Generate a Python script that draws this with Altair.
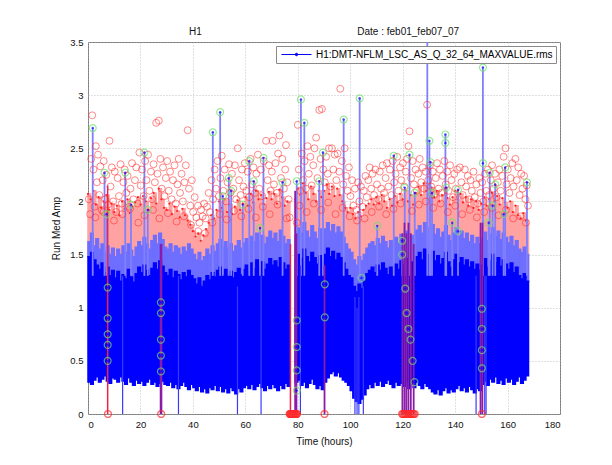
import altair as alt
import pandas as pd

SERIES = "H1:DMT-NFLM_LSC_AS_Q_32_64_MAXVALUE.rms"
TITLE = "H1" + "\u00a0" * 56 + "Date : feb01_feb07_07"

HOURS = list(range(168))
BLUE_LOW = [
    0.30, 0.28, 0.32, 0.35, 0.30, 0.33, 0.36, 0.31, 0.29, 0.34,
    0.33, 0.30, 0.35, 0.31, 0.28, 0.34, 0.30, 0.27, 0.32, 0.29,
    0.31, 0.27, 0.30, 0.33, 0.28, 0.30, 0.26, 0.29, 0.31, 0.28,
    0.27, 0.30, 0.25, 0.28, 0.24, 0.27, 0.30, 0.26, 0.23, 0.28,
    0.25, 0.22, 0.26, 0.21, 0.24, 0.20, 0.25, 0.23, 0.27, 0.22,
    0.26, 0.21, 0.24, 0.20, 0.25, 0.22, 0.19, 0.24, 0.21, 0.25,
    0.27, 0.24, 0.28, 0.23, 0.26, 0.29, 0.25, 0.22, 0.27, 0.24,
    0.28, 0.25, 0.22, 0.27, 0.24, 0.29, 0.26, None, None, 0.30,
    0.32, 0.27, 0.30, 0.25, 0.29, 0.33, 0.28, 0.24, 0.27, 0.23,
    0.30, 0.34, 0.38, 0.40, 0.36, 0.39, 0.35, 0.32, 0.30, 0.27,
    0.22, 0.15, 0.12, 0.10, 0.14, 0.18, 0.24, 0.28, 0.25, 0.30,
    0.27, 0.31, 0.26, 0.29, 0.32, 0.28, 0.25, 0.30, 0.27, 0.29,
    0.26, 0.30, 0.24, 0.28, 0.25, 0.30, 0.27, 0.24, 0.29, 0.26,
    0.24, 0.21, 0.19, 0.23, 0.18, 0.22, 0.25, 0.20, 0.23, 0.21,
    0.24, 0.27, 0.22, 0.25, 0.21, 0.26, 0.23, 0.20, 0.24, 0.22,
    0.28, 0.31, 0.27, 0.33, 0.30, 0.35, 0.29, 0.32, 0.28, 0.34,
    0.30, 0.33, 0.28, 0.31, 0.35, 0.29, 0.32, 0.36,
]
BLUE_CORE_TOP = [
    1.48, 1.52, 1.45, 1.40, 1.36, 1.42, 1.33, 1.38, 1.30, 1.35,
    1.28, 1.34, 1.25, 1.31, 1.27, 1.36, 1.29, 1.24, 1.32, 1.38,
    1.33, 1.40, 1.35, 1.30, 1.37, 1.42, 1.36, 1.44, 1.39, 1.33,
    1.30, 1.36, 1.28, 1.34, 1.31, 1.26, 1.33, 1.29, 1.35, 1.30,
    1.27, 1.22, 1.28, 1.20, 1.25, 1.30, 1.26, 1.33, 1.29, 1.35,
    1.38, 1.31, 1.36, 1.30, 1.34, 1.28, 1.33, 1.37, 1.31, 1.36,
    1.40, 1.34, 1.42, 1.37, 1.45, 1.39, 1.43, 1.36, 1.41, 1.46,
    1.40, 1.44, 1.38, 1.47, 1.42, 1.36, 1.40, None, None, 1.45,
    1.50, 1.46, 1.55, 1.48, 1.43, 1.52, 1.47, 1.41, 1.49, 1.44,
    1.50, 1.56, 1.48, 1.53, 1.45, 1.51, 1.47, 1.42, 1.36, 1.30,
    1.28, 1.20, 1.15, 1.22, 1.18, 1.25, 1.32, 1.35, 1.38, 1.33,
    1.40, 1.35, 1.42, 1.37, 1.31, 1.38, 1.34, 1.41, 1.36, 1.44,
    1.40, 1.46, 1.38, 1.43, 1.36, 1.48, 1.52, 1.45, 1.55, 1.50,
    1.47, 1.53, 1.44, 1.49, 1.41, 1.46, 1.52, 1.43, 1.38, 1.45,
    1.50, 1.42, 1.47, 1.40, 1.45, 1.38, 1.43, 1.36, 1.41, 1.35,
    1.40, 1.46, 1.38, 1.44, 1.50, 1.42, 1.47, 1.39, 1.45, 1.41,
    1.36, 1.42, 1.33, 1.38, 1.30, 1.27, 1.32, 1.25,
]
BLUE_TOP = [
    1.62, 1.70, 1.58, 1.65, 1.55, 1.60, 1.52, 1.58, 1.50, 1.56,
    1.48, 1.55, 1.50, 1.58, 1.52, 1.60, 1.54, 1.48, 1.57, 1.62,
    1.58, 1.66, 1.60, 1.55, 1.63, 1.68, 1.60, 1.70, 1.64, 1.57,
    1.55, 1.60, 1.52, 1.58, 1.56, 1.50, 1.57, 1.53, 1.60, 1.55,
    1.50, 1.45, 1.52, 1.44, 1.48, 1.55, 1.50, 1.58, 1.53, 1.60,
    1.64, 1.57, 1.62, 1.55, 1.60, 1.53, 1.58, 1.63, 1.56, 1.61,
    1.65, 1.58, 1.67, 1.62, 1.70, 1.63, 1.68, 1.60, 1.66, 1.72,
    1.65, 1.70, 1.62, 1.73, 1.67, 1.60, 1.64, None, None, 1.68,
    1.75, 1.70, 1.80, 1.72, 1.66, 1.77, 1.71, 1.65, 1.74, 1.68,
    1.74, 1.80, 1.72, 1.78, 1.70, 1.76, 1.71, 1.66, 1.60, 1.55,
    1.52, 1.45, 1.40, 1.48, 1.44, 1.50, 1.56, 1.60, 1.62, 1.58,
    1.65, 1.60, 1.67, 1.62, 1.56, 1.63, 1.58, 1.66, 1.61, 1.69,
    1.65, 1.72, 1.63, 1.68, 1.60, 1.73, 1.77, 1.70, 1.80, 1.75,
    1.72, 1.78, 1.69, 1.74, 1.66, 1.71, 1.77, 1.68, 1.63, 1.70,
    1.75, 1.67, 1.72, 1.65, 1.70, 1.62, 1.68, 1.60, 1.66, 1.60,
    1.65, 1.71, 1.63, 1.69, 1.75, 1.67, 1.72, 1.64, 1.70, 1.66,
    1.61, 1.67, 1.58, 1.63, 1.55, 1.52, 1.57, 1.50,
]
RED_TOP = [
    2.07, 2.02, 2.10, 1.97, 2.04, 1.94, 2.00, 2.06, 1.92, 1.98,
    1.90, 1.96, 1.87, 2.00, 1.93, 2.02, 1.89, 1.95, 1.99, 2.04,
    1.97, 2.05, 2.00, 1.92, 2.03, 2.08, 1.98, 2.12, 2.02, 1.94,
    1.92, 1.98, 1.88, 1.95, 1.91, 1.85, 1.93, 1.87, 1.82, 1.78,
    1.72, 1.67, 1.70, 1.63, 1.68, 1.74, 1.80, 1.87, 1.84, 1.92,
    2.00, 1.94, 2.02, 1.90, 1.97, 1.88, 1.95, 2.01, 1.92, 1.98,
    2.04, 1.96, 2.07, 1.99, 2.10, 2.02, 2.06, 1.97, 2.03, 2.09,
    2.02, 2.07, 1.98, 2.11, 2.04, 1.96, 2.00, None, None, 2.02,
    2.12, 2.06, 2.17, 2.08, 2.02, 2.14, 2.07, 2.00, 2.10, 2.04,
    2.10, 2.16, 2.07, 2.14, 2.05, 2.12, 2.06, 2.00, 1.94, 1.90,
    1.94, 1.88, 1.84, 1.90, 1.86, 1.92, 1.96, 1.98, 2.02, 1.97,
    2.04, 1.98, 2.06, 2.00, 1.94, 2.02, 1.96, 2.05, 1.99, 2.07,
    2.02, 2.10, 2.00, 2.06, 1.97, 2.08, 2.14, 2.06, 2.17, 2.10,
    2.07, 2.13, 2.04, 2.10, 2.00, 2.06, 2.12, 2.03, 1.97, 2.04,
    2.10, 2.02, 2.07, 1.99, 2.04, 1.96, 2.02, 1.94, 2.00, 1.92,
    1.98, 2.04, 1.96, 2.02, 2.08, 2.00, 2.05, 1.97, 2.03, 1.99,
    1.94, 2.00, 1.90, 1.96, 1.87, 1.84, 1.89, 1.82,
]

RED_T = [
    0.3, 0.8, 1.2, 1.6, 2.1, 2.5, 3.0, 3.4, 3.8, 4.3, 4.7,
    5.2, 5.6, 6.0, 6.6, 7.0, 7.6, 8.2, 8.6, 9.1, 9.6,
    10.2, 10.7, 11.3, 11.8, 12.4, 12.9, 13.5, 14.0, 14.6,
    15.1, 15.7, 16.2, 16.8, 17.3, 17.9, 18.4, 18.9, 19.6,
    20.1, 20.6, 21.2, 21.8, 22.3, 22.9, 23.4, 24.0, 24.5,
    25.0, 25.5, 26.0, 26.5, 27.0, 27.6, 28.1, 28.6, 29.2, 29.7,
    30.2, 30.8, 31.3, 31.9, 32.4, 33.0, 33.5, 34.1, 34.6,
    35.1, 35.7, 36.2, 36.8, 37.3, 38.0, 38.5, 39.0, 39.6,
    40.1, 40.7, 41.3, 41.9, 42.5, 43.1, 43.7, 44.3, 44.9,
    45.4, 46.0, 46.5, 47.1, 47.7, 48.3, 48.8, 49.4, 49.9,
    50.5, 51.0, 51.6, 52.1, 52.7, 53.2, 53.8, 54.3, 54.9,
    55.4, 56.0, 56.5, 57.1, 57.6, 58.2, 58.7, 59.3, 59.8,
    60.4, 60.9, 61.5, 62.0, 62.6, 63.1, 63.7, 64.2, 64.8,
    65.3, 65.9, 66.4, 67.0, 67.9, 68.5, 69.0, 69.6, 70.1,
    70.4, 70.9, 71.5, 72.0, 72.5, 73.0, 73.6, 74.1, 74.7, 75.2, 75.5, 76.0, 76.5, 76.9,
    79.6, 80.0, 80.4, 80.9, 81.5, 82.0, 82.6, 83.1, 83.7, 84.2, 84.8,
    85.3, 85.9, 86.4, 87.0, 87.5, 88.2, 88.7, 89.2, 89.7,
    90.3, 90.8, 91.4, 91.9, 92.5, 93.0, 93.6, 94.1, 94.7,
    95.2, 95.8, 96.2, 96.8, 97.3, 97.9, 98.4, 99.0, 99.5,
    100.1, 100.7, 101.2, 101.8, 102.4, 103.0, 103.5, 104.1, 104.7,
    105.2, 105.8, 106.3, 106.9, 107.4, 108.0, 108.5, 109.1, 109.6,
    110.2, 110.7, 111.3, 111.8, 112.4, 112.9, 113.5, 114.0, 114.6,
    115.1, 115.7, 116.2, 116.8, 117.3, 117.9, 118.4, 119.0, 119.5,
    120.1, 120.6, 121.2, 121.7, 122.2, 122.6, 123.2, 123.8, 124.3,
    124.9, 125.4, 126.0, 126.5, 127.1, 127.6, 128.2, 128.8, 129.3,
    129.8, 130.4, 130.9, 131.5, 132.0, 132.6, 133.1, 133.7, 134.2,
    134.8, 135.3, 135.9, 136.4, 137.0, 137.5, 138.1, 138.6, 139.2,
    139.7, 140.3, 140.8, 141.8, 142.4, 142.9, 143.7, 144.2, 144.8,
    145.3, 145.9, 146.4, 147.0, 147.5, 148.1, 148.6, 149.2, 149.7,
    150.3, 150.8, 151.4, 151.9, 152.5, 153.0, 153.6, 154.1, 154.7,
    155.2, 155.8, 156.3, 156.9, 157.4, 158.0, 158.5, 159.2, 159.6,
    160.1, 160.7, 161.2, 161.8, 162.3, 163.0, 163.5, 164.1, 164.6,
    165.2, 165.7, 166.3, 166.8, 167.3, 167.8,
]
RED_V = [
    2.02, 1.88, 2.40, 2.81, 2.30, 1.95, 2.52, 2.18, 2.44, 2.06, 2.33,
    1.92, 2.20, 2.38, 2.02, 2.25, 1.97, 2.57, 2.14, 2.32, 2.00,
    2.28, 1.90, 2.22, 2.05, 2.35, 1.98, 2.18, 2.30, 2.08,
    2.24, 1.95, 2.12, 2.36, 2.02, 2.20, 2.32, 1.98, 2.46,
    2.15, 2.30, 2.05, 2.38, 2.20, 2.44, 2.10, 2.28, 2.02,
    2.35, 2.18, 2.74, 2.26, 2.76, 2.40, 2.12, 2.32, 2.05, 2.22,
    2.38, 2.10, 2.28, 2.02, 2.20, 2.34, 1.98, 2.16, 2.40,
    2.08, 2.26, 2.00, 2.18, 2.34, 2.67, 2.12, 1.96, 2.20,
    1.90, 2.04, 1.85, 1.96, 1.80, 1.92, 1.86, 1.98, 1.84,
    1.95, 2.08, 1.90, 2.20, 2.02, 2.30, 2.12, 2.38, 2.05,
    2.22, 2.43, 2.10, 2.30, 2.00, 2.18, 2.35, 2.08, 2.26,
    2.12, 2.34, 2.02, 2.50, 2.20, 2.06, 2.30, 2.14, 2.36,
    2.10, 2.28, 2.04, 2.40, 2.16, 2.32, 2.08, 2.26, 2.44,
    2.12, 2.30, 2.05, 2.38, 2.57, 2.20, 2.34, 2.10, 2.28,
    2.57, 2.16, 2.36, 2.08, 2.45, 2.62, 2.22, 2.40, 2.12, 2.30, 2.53, 2.18, 2.02, 1.85,
    1.80, 2.72, 2.30, 2.10, 2.45, 2.20, 2.38, 2.12, 2.52, 2.26, 2.42,
    2.15, 2.34, 2.50, 2.60, 2.22, 2.86, 2.40, 2.87, 2.30,
    2.18, 2.42, 2.26, 2.50, 2.14, 2.50, 2.30, 2.44, 2.20,
    2.45, 2.28, 3.06, 2.38, 2.16, 2.50, 2.24, 2.10, 2.32,
    2.05, 2.20, 1.96, 2.12, 1.92, 2.18, 2.00, 2.14, 1.95,
    2.10, 2.24, 2.04, 2.20, 2.32, 2.12, 2.26, 2.06, 2.30,
    2.16, 2.02, 2.28, 2.12, 2.34, 2.08, 2.22, 2.36, 2.14,
    2.30, 2.06, 2.38, 2.18, 2.26, 2.42, 2.10, 2.32, 2.20,
    2.36, 2.14, 2.28, 2.40, 2.52, 2.66, 2.22, 2.38, 2.16,
    2.30, 2.10, 2.26, 2.40, 2.18, 2.32, 2.12, 2.28, 2.91,
    2.20, 2.34, 2.14, 2.28, 2.06, 2.22, 2.36, 2.12, 2.30,
    2.08, 2.24, 2.38, 2.16, 2.28, 2.10, 2.34, 2.20, 2.04,
    2.26, 2.12, 2.30, 2.32, 2.18, 2.06, 2.30, 2.14, 2.24,
    2.02, 2.20, 2.10, 2.28, 2.04, 2.16, 1.98, 2.22, 2.08,
    2.18, 2.00, 2.26, 2.10, 2.30, 2.06, 2.20, 2.34, 2.12,
    2.26, 2.04, 2.18, 2.30, 2.10, 2.24, 2.42, 2.50, 2.16,
    2.30, 2.08, 2.22, 2.36, 2.14, 2.40, 2.20, 2.32, 2.06,
    2.26, 2.12, 2.24, 2.02, 2.15, 1.96,
]
# lower-lying red circles that sit inside the red band
RED_LOW_T = [2.8, 5.9, 9.9, 13.1, 16.0, 19.2, 21.5, 24.8, 27.2, 30.5,
             33.8, 36.6, 39.3, 42.0, 44.6, 47.4, 50.2, 52.9, 55.7, 58.5,
             61.2, 64.0, 66.7, 69.3, 72.3, 75.8, 80.7, 83.4, 86.1, 88.9,
             91.6, 94.4, 97.1, 99.8, 102.6, 105.5, 108.2, 111.0, 113.7, 116.5,
             119.2, 123.5, 126.2, 128.9, 131.7, 134.5, 137.2, 140.0, 142.7, 145.6,
             148.3, 151.1, 153.9, 156.6, 159.4, 162.1, 164.9, 167.0]
RED_LOW_V = [1.85, 1.90, 1.82, 1.88, 1.93, 1.80, 1.87, 1.92, 1.84, 1.89,
             1.81, 1.86, 1.78, 1.72, 1.70, 1.80, 1.88, 1.83, 1.91, 1.86,
             1.93, 1.85, 1.95, 1.88, 1.97, 1.84, 1.96, 1.90, 1.98, 1.92,
             1.99, 1.88, 1.94, 1.86, 1.82, 1.84, 1.90, 1.95, 1.88, 1.93,
             1.98, 1.91, 1.97, 2.00, 1.94, 1.98, 1.90, 1.96, 1.88, 1.92,
             1.85, 1.90, 1.94, 1.87, 1.92, 1.84, 1.86, 1.80]

SPIKE_T = [1.8, 6.3, 7.1, 14.2, 16.4, 21.5, 22.8, 47.6, 50.4, 51.4, 53.7, 54.6,
           59.0, 61.5, 63.2, 65.6, 66.9, 74.2, 79.6, 81.2, 82.5, 88.2, 89.6, 97.5,
           103.6, 110.3, 116.6, 119.8, 120.8, 122.6, 124.6, 129.4, 130.2, 130.6,
           131.2, 136.3, 136.6, 138.9, 141.1, 150.6, 152.8, 153.2, 154.3, 155.3,
           158.5, 159.1, 167.4]
SPIKE_V = [2.69, 2.27, 1.88, 2.27, 1.97, 2.46, 1.92, 2.65, 2.84, 2.05, 2.22, 2.10,
           1.97, 2.38, 2.19, 1.75, 2.41, 2.18, 2.19, 2.96, 2.74, 2.19, 2.46, 2.77,
           2.97, 1.77, 2.43, 1.63, 2.13, 2.44, 2.08, 3.60, 2.57, 2.37,
           2.08, 2.63, 2.13, 1.80, 2.11, 3.26, 1.80, 2.27, 1.96, 2.16,
           1.88, 2.32, 2.18]
SPIKE_BASE = 1.3

GREEN_T = [7.5, 7.5, 7.5, 7.5, 7.5, 27.8, 27.8, 27.8, 27.8, 27.8,
           79.6, 79.6, 79.6, 79.6, 90.3, 90.3,
           121.0, 121.5, 122.2, 123.0, 123.8, 124.5,
           150.2, 150.2, 150.2, 150.2, 136.3, 150.6, 104.3, 119.8, 141.1]
GREEN_V = [1.19, 0.90, 0.75, 0.65, 0.50, 1.05, 0.95, 0.70, 0.55, 0.40,
           0.88, 0.63, 0.41, 0.22, 1.22, 0.91,
           1.18, 0.95, 0.80, 0.70, 0.50, 0.30,
           0.99, 0.80, 0.60, 0.43, 2.55, 2.36, 1.28, 1.50, 1.72]

DROP_T = [7.5, 13.2, 27.7, 28.0, 34.5, 57.0, 66.0, 77.2, 79.0, 79.5, 81.0, 90.2,
          101.8, 102.6, 103.3, 105.0, 119.9, 120.7, 121.4, 122.2, 123.1, 124.2,
          148.0, 149.7, 150.4, 151.3, 151.8]
DROP_TOP = [2.15, 1.3, 1.6, 1.6, 1.3, 1.2, 1.3, 1.6, 2.1, 1.7, 1.4, 1.4,
            1.1, 1.0, 1.1, 1.2, 1.7, 1.8, 1.7, 1.8, 1.7, 1.6,
            1.3, 1.8, 1.8, 1.3, 1.3]
DROP_KIND = ["red", "blue", "purple", "purple", "blue", "blue", "blue", "red",
             "purple", "purple", "blue", "purple", "blue", "blue", "blue", "blue",
             "purple", "purple", "purple", "purple", "purple", "purple",
             "blue", "purple", "purple", "blue", "blue"]

ZERO_T = [7.6, 27.9, 76.9, 77.1, 77.3, 77.5, 77.7, 77.9, 78.1, 78.3, 78.5, 78.7,
          78.9, 79.1, 79.3, 79.5, 79.7, 90.2, 119.8, 120.2, 120.6, 121.0, 121.4,
          121.8, 122.2, 122.6, 123.0, 123.4, 123.8, 124.2, 124.6, 150.2]

X_TICKS = [0, 20, 40, 60, 80, 100, 120, 140, 160, 180]
Y_TICKS = [0, 0.5, 1, 1.5, 2, 2.5, 3, 3.5]

# ---------------------------------------------------------------- frames
band = pd.DataFrame({"t": HOURS, "lo": BLUE_LOW, "mid": BLUE_CORE_TOP,
                     "top": BLUE_TOP, "rtop": RED_TOP}).dropna()
band["t2"] = band["t"] + 1
band["series"] = SERIES

red = pd.DataFrame(list(zip(RED_T + RED_LOW_T, RED_V + RED_LOW_V)), columns=["t", "v"])
spikes = pd.DataFrame(list(zip(SPIKE_T, SPIKE_V)), columns=["t", "v"])
spikes["base"] = SPIKE_BASE
greens = pd.concat([spikes[["t", "v"]],
                    pd.DataFrame(list(zip(GREEN_T, GREEN_V)), columns=["t", "v"])],
                   ignore_index=True)
drops = pd.DataFrame({"t": DROP_T, "v": DROP_TOP, "kind": DROP_KIND})
drops["zero"] = 0.0
zeros = pd.DataFrame({"t": ZERO_T})
zeros["v"] = 0.0

xs = alt.Scale(domain=[0, 180], nice=False, zero=False)
ys = alt.Scale(domain=[0, 3.5], nice=False)
xaxis = alt.Axis(values=X_TICKS, title="Time (hours)", format="d")
yaxis = alt.Axis(values=Y_TICKS, title="Run Med Amp", format=".1~f")


def X(f):
    return alt.X(f"{f}:Q", scale=xs, axis=xaxis, title="Time (hours)")


def Y(f):
    return alt.Y(f"{f}:Q", scale=ys, axis=yaxis, title="Run Med Amp")


pink = alt.Chart(band).mark_rect(color="#ffa2a2", stroke="#ffa2a2", strokeWidth=1.5).encode(
    x=X("t"), x2="t2", y=Y("mid"), y2="rtop")
light = alt.Chart(band).mark_rect(color="#6e6eff", stroke="#6e6eff", strokeWidth=1.5).encode(
    x=X("t"), x2="t2", y=Y("mid"), y2="top")
core = alt.Chart(band).mark_rect(stroke="#0000ff", strokeWidth=1.5).encode(
    x=X("t"), x2="t2", y=Y("lo"), y2="mid",
    color=alt.Color("series:N", scale=alt.Scale(range=["#0000ff"]),
                    legend=alt.Legend(title=None, orient="top-right", offset=4,
                                      symbolType="M-3,0H3M-0.25,0A0.25,0.25,0,1,0,0.25,0A0.25,0.25,0,1,0,-0.25,0",
                                      symbolSize=100, symbolStrokeColor="#0000ff",
                                      symbolFillColor="#0000ff", symbolStrokeWidth=1,
                                      symbolOffset=12, labelOffset=14)))
red_top_dots = alt.Chart(band).mark_point(filled=True, color="#ff0000", size=5, opacity=0.8).encode(
    x=X("t"), y=Y("rtop"))
spike_rules = alt.Chart(spikes).mark_rule(color="#8080ff", strokeWidth=1.8, clip=True).encode(
    x=X("t"), y=Y("v"), y2="base")
drop_layers = []
for kind, col, w in [("blue", "#3a3aff", 1.2), ("purple", "#8a1ca8", 1.8), ("red", "#f0204a", 1.5)]:
    drop_layers.append(
        alt.Chart(drops).transform_filter(alt.datum.kind == kind)
        .mark_rule(color=col, strokeWidth=w).encode(x=X("t"), y=Y("zero"), y2="v"))
red_circles = alt.Chart(red).mark_point(shape="circle", filled=False, color="#ff2a2a",
                                        size=48, strokeWidth=0.8).encode(x=X("t"), y=Y("v"))
green_circles = alt.Chart(greens).mark_point(shape="circle", filled=False, color="#70e070",
                                             size=48, strokeWidth=1.2, clip=True).encode(x=X("t"), y=Y("v"))
green_dots = alt.Chart(greens).mark_point(filled=True, color="#0000ff", size=6, clip=True).encode(
    x=X("t"), y=Y("v"))
zero_circles = alt.Chart(zeros).mark_point(shape="circle", filled=False, color="#ff2a2a",
                                           size=48, strokeWidth=1.3).encode(x=X("t"), y=Y("v"))

chart = alt.layer(
    pink, light, core, red_top_dots, spike_rules, *drop_layers,
    red_circles, green_circles, green_dots, zero_circles
).properties(
    width=472, height=372,
    autosize=alt.AutoSizeParams(type="none"),
    padding={"left": 80, "top": 34, "right": 44, "bottom": 44},
    title=alt.TitleParams(TITLE, frame="group", anchor="middle", fontSize=10,
                          fontWeight="normal", offset=0, color="#111"),
).configure(font="Liberation Sans").configure_view(
    stroke="#7a7a7a", strokeWidth=1
).configure_axis(
    labelFontSize=9.5, labelColor="#111", titleFontSize=10, titleFontWeight="normal",
    titleColor="#111", grid=True, gridColor="#b0b0b0", gridDash=[1, 2], gridWidth=0.8,
    domain=False, ticks=False, labelPadding=5, titlePadding=8
).configure_legend(
    labelFontSize=10, labelColor="#000", strokeColor="#8a8a8a", fillColor="#ffffff",
    padding=3, labelLimit=400, cornerRadius=0
)

chart.save("out.html", embed_options={"renderer": "svg", "actions": False})
